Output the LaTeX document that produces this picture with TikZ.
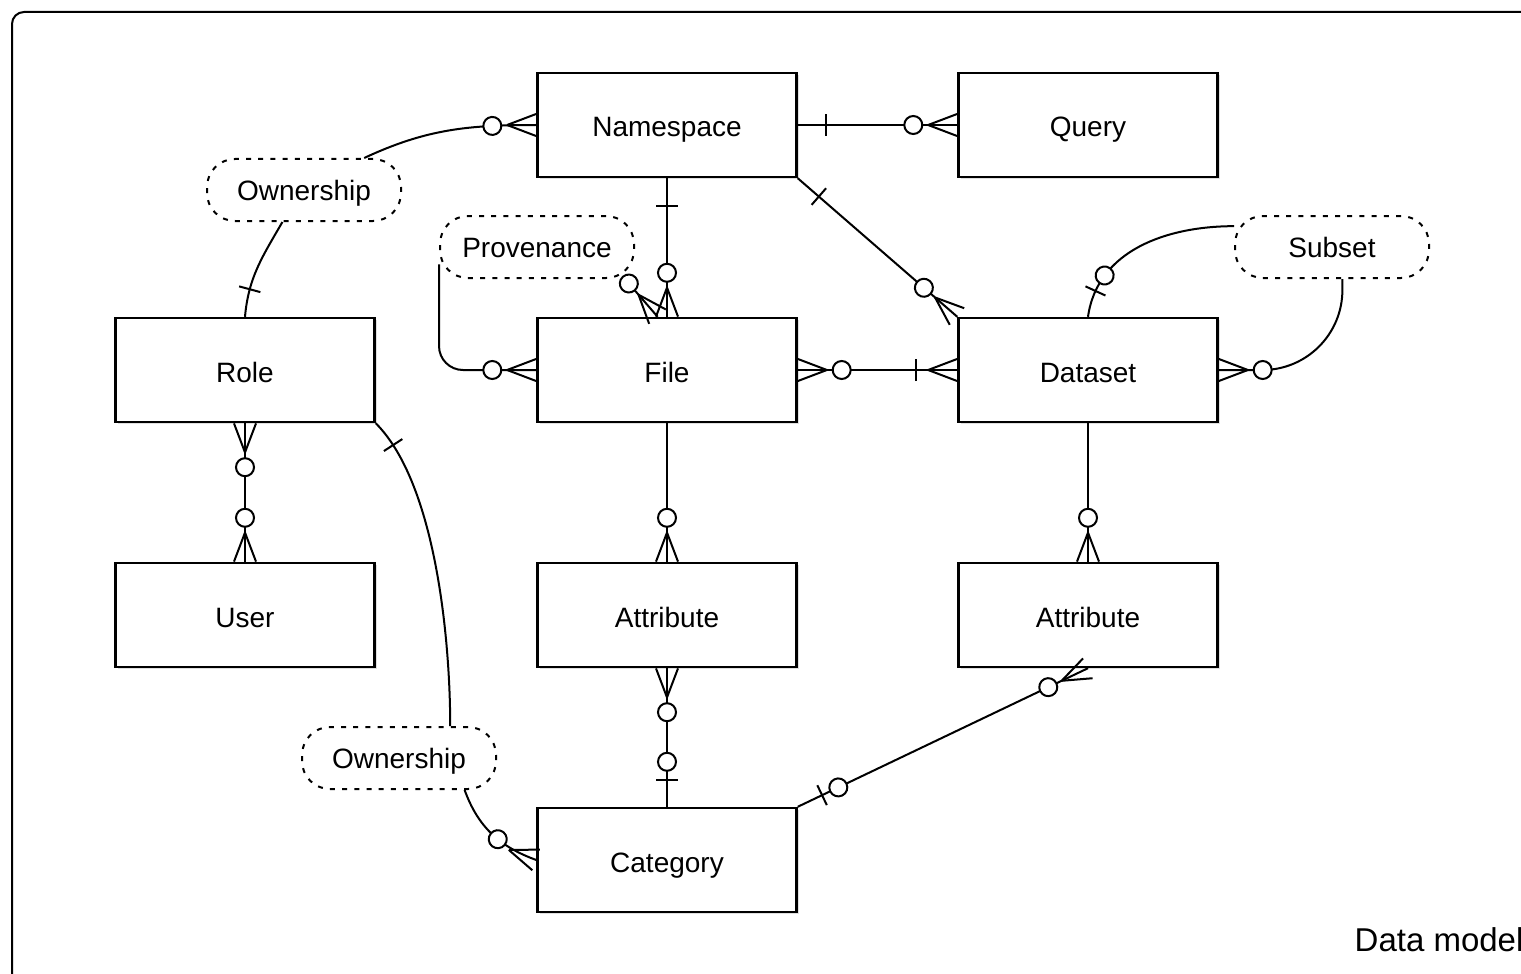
\documentclass[tikz,border=0pt]{standalone}
\usepackage{fontspec}
\setmainfont{Liberation Sans}
\usetikzlibrary{decorations.markings,shadows}

\tikzset{
    entity/.style={draw, line width=1.2pt, fill=white, minimum width=129.5pt, minimum height=52pt,
        text height=12pt, text depth=0pt,
        drop shadow={shadow xshift=1.2pt, shadow yshift=-1.2pt, opacity=0.25}},
    rel/.style={draw, line width=1pt, dash pattern=on 2.5pt off 3.6pt, rounded corners=14pt,
        fill=white, minimum width=97pt, minimum height=31pt, text height=10.5pt, text depth=0pt},
    % crow's foot ends
    many end/.style={postaction={decorate, decoration={markings,
        mark=at position -22pt with {\draw[fill=white] (0,0) circle (4.5pt);},
        mark=at position -0.1pt with {\draw (-14.5pt,0) -- (0,5.5pt) (-14.5pt,0) -- (0,-5.5pt);}}}},
    many start/.style={postaction={decorate, decoration={markings,
        mark=at position 0.1pt with {\draw (14.5pt,0) -- (0,5.5pt) (14.5pt,0) -- (0,-5.5pt);},
        mark=at position 22pt with {\draw[fill=white] (0,0) circle (4.5pt);}}}},
    one start/.style={postaction={decorate, decoration={markings,
        mark=at position 14pt with {\draw (0,-5.5pt) -- (0,5.5pt);}}}},
    onemany end/.style={postaction={decorate, decoration={markings,
        mark=at position -20.5pt with {\draw (0,-5.5pt) -- (0,5.5pt);},
        mark=at position -0.1pt with {\draw (-14.5pt,0) -- (0,5.5pt) (-14.5pt,0) -- (0,-5.5pt);}}}},
    zeroone start/.style={postaction={decorate, decoration={markings,
        mark=at position 13.5pt with {\draw (0,-5.5pt) -- (0,5.5pt);},
        mark=at position 22.5pt with {\draw[fill=white] (0,0) circle (4.5pt);}}}},
    zeroone end/.style={postaction={decorate, decoration={markings,
        mark=at position -22.5pt with {\draw[fill=white] (0,0) circle (4.5pt);},
        mark=at position -13.5pt with {\draw (0,-5.5pt) -- (0,5.5pt);}}}},
}

\begin{document}
\begin{tikzpicture}[x=0.5pt, y=-0.5pt, line width=1pt, font=\fontsize{14}{17}\selectfont]
    \useasboundingbox (0,0) rectangle (1521,974);
    \draw[rounded corners=6pt] (12,12) rectangle (1560,1000);

    % Columns and rows of the entities
    \def\colA{245}
    \def\colB{667}
    \def\colC{1088}
    \def\rowA{125}
    \def\rowB{370}
    \def\rowC{615}
    \def\rowD{860}

    \foreach \name/\x/\y/\txt in {ns/\colB/\rowA/Namespace, query/\colC/\rowA/Query,
        role/\colA/\rowB/Role, file/\colB/\rowB/File, dataset/\colC/\rowB/Dataset,
        user/\colA/\rowC/User, fattr/\colB/\rowC/Attribute, dattr/\colC/\rowC/Attribute,
        cat/\colB/\rowD/Category}
        \node[entity] (\name) at (\x,\y) {\txt};

    % Relationship labels
    \node[rel] (own1) at (304,190) {Ownership};
    \node[rel] (prov) at (537,247) {Provenance};
    \node[rel] (subset) at (1332,247) {Subset};
    \node[rel] (own2) at (399,758) {Ownership};

    % Connectors
    \draw[one start, many end] (ns) -- (query);
    \draw[one start, many end] (ns) -- (file);
    \draw[one start, many end] (ns.south east) -- (dataset.north west);
    \draw[many start, onemany end] (file) -- (dataset);
    \draw[many start, many end] (role) -- (user);
    \draw[many end] (file) -- (fattr);
    \draw[many end] (dataset) -- (dattr);
    \draw[many start, zeroone end] (fattr) -- (cat);
    \draw[zeroone start, many end] (cat.north east) -- (dattr.south);

    % Ownership of namespaces
    \draw[one start] (role.north) to[out=85, in=-120] (own1.236);
    \draw[many end] (own1.28) to[out=25, in=180] (ns.west);

    % Provenance of files
    \draw[rounded corners=12pt, many end] (prov.190) |- (file.west);
    \draw[many end] (prov.-20) -- (file.100);

    % Subsets of datasets
    \draw[zeroone start] (dataset.north) to[out=82, in=180] (subset.168);
    \draw[rounded corners=40pt, many end] (subset.288) |- (dataset.east);

    % Ownership of categories
    \draw[one start] (role.south east) to[out=-45, in=90, looseness=0.7] (own2.32);
    \draw[many end] (own2.-26) to[out=-70, in=160] (cat.west);

    \node[anchor=base west, font=\fontsize{16.5}{20}\selectfont] (caption) at (1347,951) {Data model};
\end{tikzpicture}
\end{document}
